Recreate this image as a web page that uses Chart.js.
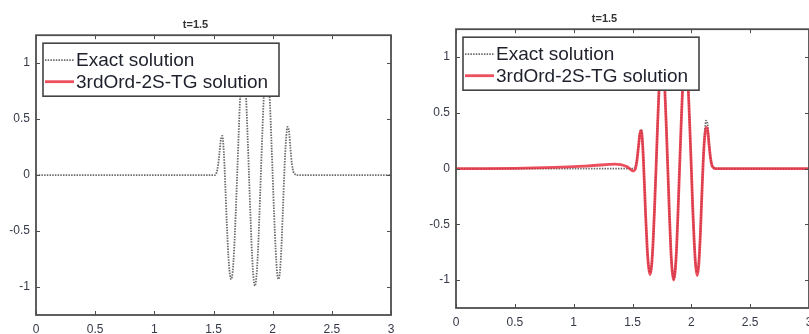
<!DOCTYPE html>
<html>
<head>
<meta charset="utf-8">
<script src="https://cdn.jsdelivr.net/npm/chart.js@4.4.1/dist/chart.umd.min.js"></script>
<style>
  html, body { margin: 0; padding: 0; background: #fff; overflow: hidden; width: 809px; height: 334px; }
  .wrap { position: absolute; top: 0; height: 334px; }
  #w1 { left: 0; width: 400px; }
  #w2 { left: 400px; width: 420px; }
</style>
</head>
<body>
<div class="wrap" id="w1"><canvas id="c1" width="400" height="334"></canvas></div>
<div class="wrap" id="w2"><canvas id="c2" width="420" height="334"></canvas></div>
<script>
// ---- data ----
const titleText = 't=1.5';
const seriesNames = ['Exact solution', '3rdOrd-2S-TG solution'];
const xTicks = [0, 0.5, 1, 1.5, 2, 2.5, 3];
const yTicks = [-1, -0.5, 0, 0.5, 1];

// exact solution (same in both panels)
const xExact = [0, 0.5, 1.0,
  1.5000, 1.5125, 1.5250, 1.5375, 1.5500, 1.5625, 1.5750, 1.5875, 1.6000, 1.6125,
  1.6250, 1.6375, 1.6500, 1.6625, 1.6750, 1.6875, 1.7000, 1.7125, 1.7250, 1.7375,
  1.7500, 1.7625, 1.7750, 1.7875, 1.8000, 1.8125, 1.8250, 1.8375, 1.8500, 1.8625,
  1.8750, 1.8875, 1.9000, 1.9125, 1.9250, 1.9375, 1.9500, 1.9625, 1.9750, 1.9875,
  2.0000, 2.0125, 2.0250, 2.0375, 2.0500, 2.0625, 2.0750, 2.0875, 2.1000, 2.1125,
  2.1250, 2.1375, 2.1500, 2.1625, 2.1750, 2.1875, 2.2000,
  2.5, 3.0];
const yExact = [0, 0, 0,
  0.00, 0.00, 0.02, 0.08, 0.19, 0.32, 0.35, 0.20, -0.10, -0.43,
  -0.71, -0.88, -0.93, -0.86, -0.65, -0.35, 0.00, 0.36, 0.69, 0.91,
  0.99, 0.91, 0.70, 0.37, 0.00, -0.37, -0.70, -0.91, -0.99, -0.91,
  -0.70, -0.37, 0.00, 0.37, 0.70, 0.91, 0.99, 0.91, 0.69, 0.36,
  0.00, -0.36, -0.66, -0.87, -0.93, -0.85, -0.62, -0.28, 0.06, 0.31,
  0.43, 0.40, 0.24, 0.10, 0.03, 0.01, 0.00,
  0, 0];

// numerical solution (right panel only)
const xNum = [0, 0.25, 0.5, 0.75, 1.0, 1.1, 1.2, 1.3, 1.35, 1.4, 1.45, 1.475,
  1.5000, 1.5125, 1.5250, 1.5375, 1.5500, 1.5625, 1.5750, 1.5875, 1.6000, 1.6125,
  1.6250, 1.6375, 1.6500, 1.6625, 1.6750, 1.6875, 1.7000, 1.7125, 1.7250, 1.7375,
  1.7500, 1.7625, 1.7750, 1.7875, 1.8000, 1.8125, 1.8250, 1.8375, 1.8500, 1.8625,
  1.8750, 1.8875, 1.9000, 1.9125, 1.9250, 1.9375, 1.9500, 1.9625, 1.9750, 1.9875,
  2.0000, 2.0125, 2.0250, 2.0375, 2.0500, 2.0625, 2.0750, 2.0875, 2.1000, 2.1125,
  2.1250, 2.1375, 2.1500, 2.1625, 2.1750, 2.1875, 2.2000,
  2.5, 3.0];
const yNum = [0, 0, 0.002, 0.008, 0.017, 0.023, 0.030, 0.037, 0.040, 0.036, 0.018, 0.0,
  -0.02, -0.02, 0.00, 0.07, 0.19, 0.31, 0.34, 0.19, -0.11, -0.44,
  -0.72, -0.89, -0.95, -0.87, -0.66, -0.35, 0.00, 0.37, 0.70, 0.92,
  1.00, 0.92, 0.70, 0.37, 0.00, -0.37, -0.71, -0.92, -1.00, -0.92,
  -0.71, -0.37, 0.00, 0.37, 0.70, 0.92, 1.00, 0.92, 0.69, 0.36,
  0.00, -0.37, -0.67, -0.88, -0.96, -0.87, -0.63, -0.29, 0.04, 0.27,
  0.37, 0.35, 0.22, 0.10, 0.03, 0.01, 0.00,
  0, 0];

// ---- helpers ----
const pts = (xs, ys) => xs.map((x, i) => ({ x: x, y: ys[i] }));
const FRAME = '#4e4e4e';
const TICKCOL = '#353a48';

const framePlugin = {
  id: 'matlabFrame',
  afterDatasetsDraw(chart) {
    const { ctx, chartArea: a, scales } = chart;
    const sx = scales.x, sy = scales.y;
    ctx.save();
    ctx.strokeStyle = FRAME;
    ctx.lineWidth = 1;
    const L = 4;
    ctx.beginPath();
    xTicks.forEach(v => {
      const p = Math.round(sx.getPixelForValue(v)) + 0.5;
      ctx.moveTo(p, a.bottom); ctx.lineTo(p, a.bottom - L);
      ctx.moveTo(p, a.top); ctx.lineTo(p, a.top + L);
    });
    yTicks.forEach(v => {
      const p = Math.round(sy.getPixelForValue(v)) + 0.5;
      ctx.moveTo(a.left, p); ctx.lineTo(a.left + L, p);
      ctx.moveTo(a.right, p); ctx.lineTo(a.right - L, p);
    });
    ctx.stroke();
    ctx.lineWidth = 1.8;
    ctx.strokeRect(a.left, a.top, a.right - a.left, a.bottom - a.top);
    ctx.restore();
  },
  afterDraw(chart) {
    const { ctx, chartArea: a } = chart;
    const bx = a.left + 7, by = a.top + 8, bw = 236, bh = 53;
    ctx.save();
    ctx.fillStyle = '#fff';
    ctx.fillRect(bx, by, bw, bh);
    ctx.strokeStyle = '#444';
    ctx.lineWidth = 1.6;
    ctx.strokeRect(bx, by, bw, bh);
    const rows = [by + 17, by + 38.5];
    chart.data.datasets.forEach((ds, i) => {
      const yy = rows[i];
      ctx.save();
      ctx.strokeStyle = ds.borderColor;
      ctx.lineWidth = ds.borderWidth;
      ctx.setLineDash(ds.borderDash || []);
      ctx.beginPath();
      ctx.moveTo(bx + 2, yy); ctx.lineTo(bx + 31, yy);
      ctx.stroke();
      ctx.restore();
      ctx.fillStyle = '#1e202b';
      ctx.font = '19px "Liberation Sans", Arial, sans-serif';
      ctx.textBaseline = 'middle';
      ctx.textAlign = 'left';
      ctx.fillText(ds.label, bx + 33, yy + 1);
    });
    ctx.restore();
  }
};

function makeChart(canvasId, numData, opts) {
  const datasets = [
    {
      label: seriesNames[0],
      data: pts(xExact, yExact),
      borderColor: '#6a6a6a',
      borderWidth: 1.8,
      borderDash: [1.5, 1.2],
      pointRadius: 0,
      cubicInterpolationMode: 'monotone',
      order: 2
    },
    {
      label: seriesNames[1],
      data: numData,
      borderColor: 'rgba(232,40,58,0.82)',
      borderWidth: 2.8,
      pointRadius: 0,
      cubicInterpolationMode: 'monotone',
      order: 1
    }
  ];
  return new Chart(document.getElementById(canvasId), {
    type: 'line',
    data: { datasets: datasets },
    options: {
      responsive: false,
      animation: false,
      devicePixelRatio: 1,
      layout: { padding: { left: 0, right: opts.padRight, top: 0, bottom: 0 } },
      plugins: {
        legend: { display: false },
        tooltip: { enabled: false },
        title: {
          display: true,
          text: titleText,
          color: '#333',
          font: { family: '"Liberation Sans", Arial, sans-serif', size: 11, weight: 'bold', lineHeight: 1.2 },
          padding: { top: opts.titleTop, bottom: 4 }
        }
      },
      scales: {
        x: {
          type: 'linear',
          min: 0, max: 3,
          afterBuildTicks: s => { s.ticks = xTicks.map(v => ({ value: v })); },
          afterFit: s => { s.height = opts.xHeight; s.paddingLeft = 0; s.paddingRight = 0; },
          grid: { display: false, drawTicks: false },
          border: { display: false },
          ticks: {
            color: TICKCOL, padding: 7, maxRotation: 0, autoSkip: false,
            font: { family: '"Liberation Sans", Arial, sans-serif', size: 12 },
            callback: v => String(v)
          }
        },
        y: {
          type: 'linear',
          min: -1.25, max: 1.25,
          afterBuildTicks: s => { s.ticks = yTicks.map(v => ({ value: v })); },
          afterFit: s => { s.width = opts.yWidth; s.paddingTop = 0; s.paddingBottom = 0; },
          grid: { display: false, drawTicks: false },
          border: { display: false },
          ticks: {
            color: TICKCOL, padding: 6, autoSkip: false,
            font: { family: '"Liberation Sans", Arial, sans-serif', size: 12 },
            callback: v => String(v)
          }
        }
      }
    },
    plugins: [framePlugin]
  });
}

makeChart('c1', [], { padRight: 9, titleTop: 18, xHeight: 19, yWidth: 36 });
makeChart('c2', pts(xNum, yNum), { padRight: 11, titleTop: 12, xHeight: 26, yWidth: 56 });
</script>
</body>
</html>
